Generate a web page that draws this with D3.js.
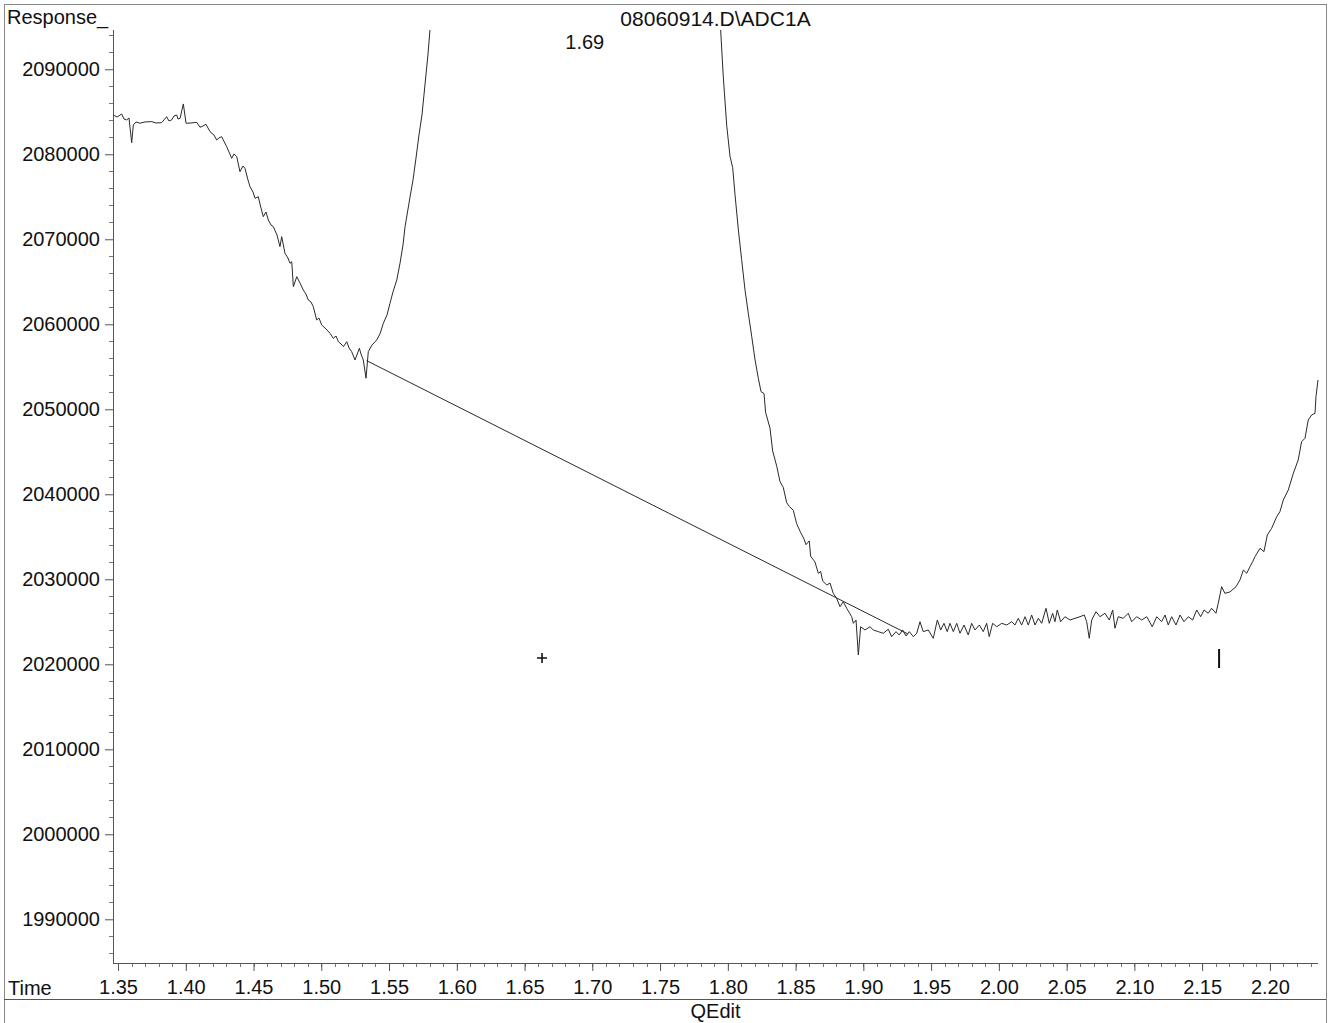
<!DOCTYPE html>
<html>
<head>
<meta charset="utf-8">
<script src="https://cdn.jsdelivr.net/npm/d3@7"></script>
<style>
  body { margin: 0; background: #fff; }
  text { font-family: "Liberation Sans", Arial, sans-serif; fill: #111; }
</style>
</head>
<body>
<div class="container"></div>
<script>
// trace up to where the 1.69 peak leaves the top of the window
var riseTimes = [1.3465,1.3493,1.3527,1.3544,1.3564,1.3581,1.3601,1.3613,1.3633,1.3662,1.3699,1.3749,1.3780,1.3822,1.3839,1.3859,1.3876,1.3896,1.3913,1.3933,1.3943,1.3958,1.3982,1.4002,1.4039,1.4081,1.4105,1.4127,1.4149,1.4179,1.4208,1.4228,1.4245,1.4265,1.4302,1.4319,1.4339,1.4356,1.4376,1.4400,1.4422,1.4437,1.4459,1.4474,1.4496,1.4511,1.4535,1.4555,1.4572,1.4592,1.4609,1.4629,1.4646,1.4673,1.4695,1.4708,1.4732,1.4754,1.4769,1.4782,1.4794,1.4819,1.4843,1.4867,1.4887,1.4904,1.4924,1.4941,1.4966,1.4983,1.5003,1.5035,1.5064,1.5089,1.5109,1.5126,1.5146,1.5163,1.5188,1.5205,1.5224,1.5249,1.5281,1.5293,1.5310,1.5330,1.5347,1.5374,1.5409,1.5433,1.5458,1.5485,1.5507,1.5529,1.5557,1.5581,1.5603,1.5618,1.5655,1.5677,1.5699,1.5721,1.5743,1.5765,1.5787,1.5802];
var riseResponses = [2084620,2084390,2084740,2084150,2084040,2084270,2081360,2083450,2083800,2083650,2083800,2083840,2083680,2083720,2084040,2084420,2083920,2084040,2084510,2084620,2084150,2084240,2085920,2083650,2083680,2083760,2083180,2083330,2083530,2082660,2082270,2081680,2081920,2082070,2080890,2080270,2079530,2080040,2079720,2077950,2078620,2078350,2076980,2076190,2075560,2074820,2075010,2073680,2072660,2073210,2072270,2071680,2071480,2070510,2069130,2070310,2068350,2067800,2067180,2067360,2064420,2065600,2064860,2064040,2063560,2062860,2062620,2062070,2060510,2060740,2059920,2059450,2058940,2058350,2058620,2057950,2057680,2057360,2057950,2057210,2056780,2055800,2057180,2056510,2055800,2053650,2056780,2057560,2058150,2058860,2060120,2061090,2062470,2063800,2065210,2067180,2069330,2071480,2074980,2076980,2079560,2082270,2084620,2088150,2091680,2094620];

// trace from where the peak comes back into the window
var tailTimes = [1.7947,1.7966,1.7992,1.8016,1.8036,1.8053,1.8077,1.8102,1.8127,1.8151,1.8176,1.8200,1.8225,1.8245,1.8267,1.8279,1.8311,1.8331,1.8361,1.8385,1.8409,1.8434,1.8454,1.8483,1.8508,1.8533,1.8562,1.8577,1.8601,1.8611,1.8643,1.8668,1.8685,1.8700,1.8730,1.8754,1.8778,1.8803,1.8828,1.8852,1.8877,1.8914,1.8926,1.8946,1.8963,1.8980,1.9012,1.9049,1.9073,1.9110,1.9147,1.9184,1.9209,1.9241,1.9265,1.9290,1.9315,1.9339,1.9369,1.9394,1.9418,1.9442,1.9479,1.9516,1.9546,1.9571,1.9595,1.9619,1.9639,1.9664,1.9689,1.9713,1.9743,1.9774,1.9799,1.9824,1.9856,1.9885,1.9910,1.9929,1.9954,1.9984,2.0021,2.0058,2.0095,2.0119,2.0143,2.0168,2.0193,2.0217,2.0242,2.0267,2.0291,2.0316,2.0348,2.0372,2.0397,2.0414,2.0431,2.0456,2.0488,2.0525,2.0562,2.0599,2.0630,2.0648,2.0667,2.0685,2.0717,2.0746,2.0783,2.0815,2.0840,2.0857,2.0881,2.0918,2.0955,2.0980,2.1017,2.1054,2.1091,2.1132,2.1165,2.1201,2.1226,2.1250,2.1275,2.1307,2.1337,2.1366,2.1398,2.1430,2.1460,2.1489,2.1514,2.1545,2.1570,2.1602,2.1619,2.1644,2.1668,2.1705,2.1750,2.1779,2.1804,2.1829,2.1853,2.1873,2.1890,2.1927,2.1956,2.1981,2.2013,2.2050,2.2074,2.2099,2.2136,2.2173,2.2209,2.2234,2.2259,2.2283,2.2308,2.2333,2.2340,2.2355];
var tailResponses = [2094620,2089220,2083360,2079760,2078410,2075260,2071210,2067610,2064010,2061310,2058600,2055910,2053650,2052070,2051850,2049600,2047800,2045090,2043290,2041490,2040820,2039020,2038560,2038120,2036540,2035650,2034740,2034070,2034520,2032720,2032040,2030690,2030920,2029790,2029330,2029560,2028350,2027760,2026780,2027360,2026590,2025600,2024820,2025210,2021090,2024420,2024040,2024420,2024040,2023840,2023650,2024120,2023250,2023840,2023450,2024040,2023330,2023840,2023250,2023650,2025010,2023840,2024040,2023060,2025210,2024040,2024820,2023840,2024820,2023840,2024820,2023650,2024620,2023450,2024820,2024040,2024620,2023840,2024820,2023250,2024820,2024420,2024820,2024620,2025010,2024620,2025410,2024620,2025600,2024620,2025800,2024620,2025410,2024820,2026590,2024820,2026000,2025010,2026390,2025010,2025600,2025210,2025410,2025600,2025800,2025010,2023060,2025210,2026190,2025600,2026000,2025210,2026390,2024240,2025600,2025410,2026000,2025010,2025600,2025210,2025600,2024420,2025600,2025010,2025800,2024620,2025600,2024620,2025800,2025010,2025600,2025210,2026390,2025600,2026390,2026000,2026590,2026000,2027180,2029130,2028350,2028510,2029130,2029920,2031090,2030710,2031480,2032070,2032660,2033650,2033250,2035210,2036000,2037360,2037950,2039330,2040510,2042470,2044040,2046190,2046590,2048740,2049330,2049530,2051480,2053450];

// drawn baseline of the integrated peak
var baseTimes = [1.5335, 1.9330];
var baseResponses = [2055720, 2023560];

// event markers
var plusMark = [1.6629, 2020740];
var barMark = [2.1625, 2020740];

var peakLabel = "1.69";
var peakTime = 1.69;

var xMajor = d3.range(135, 221, 5).map(function(d) { return d / 100; });
var xMinor = d3.range(135, 224).map(function(d) { return d / 100; });
var yMajor = d3.range(1990000, 2090001, 10000);
var yMinor = d3.range(1986000, 2094001, 2000);

var W = 1330, H = 1023;
var svg = d3.select(".container").append("svg")
  .attr("width", W).attr("height", H);

var x = d3.scaleLinear().domain([1.3463, 2.2355]).range([113, 1318]);
var y = d3.scaleLinear().domain([1984860, 2094620]).range([963, 30]);

// page frame
svg.append("rect")
  .attr("x", 4.5).attr("y", 4.5).attr("width", 1322).attr("height", 1030)
  .attr("fill", "none").attr("stroke", "#888").attr("stroke-width", 1);
svg.append("line")
  .attr("x1", 4).attr("x2", 1326).attr("y1", 999.5).attr("y2", 999.5)
  .attr("stroke", "#555");

// minor ticks
svg.append("g").selectAll("line")
  .data(yMinor.filter(function(d) { return d % 10000 != 0; }))
  .enter().append("line")
  .attr("x1", 109).attr("x2", 113)
  .attr("y1", function(d) { return Math.round(y(d)) + 0.5; })
  .attr("y2", function(d) { return Math.round(y(d)) + 0.5; })
  .attr("stroke", "#777");
svg.append("g").selectAll("line")
  .data(xMinor)
  .enter().append("line")
  .attr("x1", function(d) { return Math.round(x(d)) + 0.5; })
  .attr("x2", function(d) { return Math.round(x(d)) + 0.5; })
  .attr("y1", 963).attr("y2", 967)
  .attr("stroke", "#777");

var yAxis = svg.append("g")
  .attr("transform", "translate(113,0)")
  .call(d3.axisLeft(y).tickValues(yMajor).tickSize(8).tickPadding(5).tickFormat(d3.format("d")));
var xAxis = svg.append("g")
  .attr("transform", "translate(0,963)")
  .call(d3.axisBottom(x).tickValues(xMajor).tickSize(8).tickPadding(9).tickFormat(d3.format(".2f")));

[yAxis, xAxis].forEach(function(a) {
  a.select(".domain").remove();
  a.selectAll("line").attr("stroke", "#555");
  a.selectAll("text").attr("font-size", 20).attr("fill", "#111")
    .attr("font-family", "Liberation Sans, Arial, sans-serif");
});

svg.append("line").attr("x1", 113.5).attr("x2", 113.5).attr("y1", 30).attr("y2", 963)
  .attr("stroke", "#555");
svg.append("line").attr("x1", 113).attr("x2", 1318).attr("y1", 963.5).attr("y2", 963.5)
  .attr("stroke", "#555");

// texts
svg.append("text").attr("x", 7).attr("y", 24).attr("font-size", 20).text("Response_");
svg.append("text").attr("x", 8).attr("y", 995).attr("font-size", 20).text("Time");
svg.append("text").attr("x", 715.5).attr("y", 26).attr("font-size", 21)
  .attr("text-anchor", "middle").text("08060914.D\\ADC1A");
svg.append("text").attr("x", 715.5).attr("y", 1018).attr("font-size", 20)
  .attr("text-anchor", "middle").text("QEdit");
svg.append("text").attr("x", x(peakTime) + 6).attr("y", 49).attr("font-size", 20)
  .attr("text-anchor", "middle").text(peakLabel);

// trace
var line = d3.line()
  .x(function(d) { return x(d[0]); })
  .y(function(d) { return y(d[1]); });

function pairs(ts, rs) { return ts.map(function(t, i) { return [t, rs[i]]; }); }

[pairs(riseTimes, riseResponses), pairs(tailTimes, tailResponses), pairs(baseTimes, baseResponses)]
  .forEach(function(seg) {
    svg.append("path")
      .datum(seg)
      .attr("d", line)
      .attr("fill", "none")
      .attr("stroke", "#2a2a2a")
      .attr("stroke-width", 1);
  });

// markers
var px = x(plusMark[0]), py = y(plusMark[1]);
svg.append("path")
  .attr("d", "M" + (px - 5) + "," + py + "H" + (px + 5) + "M" + px + "," + (py - 5) + "V" + (py + 5))
  .attr("stroke", "#111").attr("stroke-width", 1.6);
var bx = x(barMark[0]), by = y(barMark[1]);
svg.append("line")
  .attr("x1", bx).attr("x2", bx).attr("y1", by - 9).attr("y2", by + 10)
  .attr("stroke", "#111").attr("stroke-width", 2);
</script>
</body>
</html>
